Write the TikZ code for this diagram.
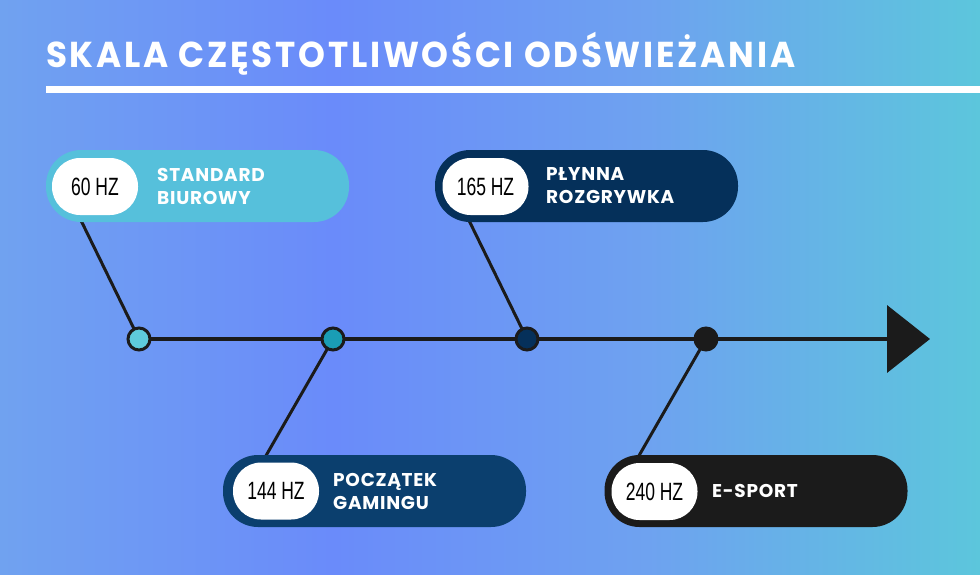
\documentclass[tikz,border=0pt]{standalone}
\usepackage{fontspec}
\setmainfont{Poppins}[BoldFont={Poppins Bold}]
\newfontfamily\hzfont[FakeStretch=0.70]{Liberation Sans}
\newfontfamily\titlefont[FakeStretch=0.95,LetterSpace=7.6]{Poppins Bold}
\newfontfamily\lblfont[LetterSpace=4]{Poppins Bold}
\usetikzlibrary{arrows.meta}

\newlength{\du}
\setlength{\du}{1pt}

\definecolor{bgA}{RGB}{112,162,240}
\definecolor{bgB}{RGB}{106,139,250}
\definecolor{bgC}{RGB}{110,162,240}
\definecolor{bgD}{RGB}{92,198,220}
\definecolor{officecol}{RGB}{86,192,219}
\definecolor{gamingcol}{RGB}{11,63,110}
\definecolor{smoothcol}{RGB}{5,48,90}
\definecolor{esportcol}{RGB}{27,27,27}
\definecolor{dotsixtycol}{RGB}{94,203,220}
\definecolor{dotgamecol}{RGB}{26,157,181}
\definecolor{inkcol}{RGB}{27,27,27}

\pgfdeclarehorizontalshading{backdrop}{100bp}{color(0bp)=(bgA); color(25bp)=(bgA); color(42bp)=(bgB); color(58bp)=(bgC); color(75bp)=(bgD); color(100bp)=(bgD)}

\pgfdeclarelayer{wire}
\pgfsetlayers{wire,main}

\tikzset{
  pill/.style={rounded corners=35\du, minimum width=303\du, minimum height=72\du, inner sep=0pt},
  hzpill/.style={fill=white, rounded corners=28\du, minimum width=86\du, minimum height=57\du, inner sep=0pt, font=\hzfont\fontsize{25}{25}\selectfont},
  lbl/.style={anchor=west, align=left, text=white, inner sep=0pt, font=\lblfont\fontsize{18.5}{23}\selectfont},
  dot/.style={circle, draw=inkcol, line width=3\du, minimum size=22\du, inner sep=0pt},
  wire/.style={draw=inkcol, line width=3\du}
}

\begin{document}
\begin{tikzpicture}
\pgftransformxscale{1.000000}
\pgftransformyscale{-1.000000}
\begin{pgfonlayer}{wire}
\shade[shading=backdrop] (0\du,0\du) rectangle (980\du,574\du);
\end{pgfonlayer}
\useasboundingbox (0\du,0\du) rectangle (980\du,574\du);

% title
\node[anchor=base west, text=white, inner sep=0pt, font=\titlefont\fontsize{36}{36}\selectfont] (title) at (46\du,67\du) {SKALA CZĘSTOTLIWOŚCI ODŚWIEŻANIA};
\fill[white] (46\du,86\du) rectangle (980\du,93\du);

% time line
\coordinate (axstart) at (128\du,339\du);
\coordinate (axend) at (930\du,339\du);
\node[dot, fill=dotsixtycol] (dot60) at (139\du,339\du) {};
\node[dot, fill=dotgamecol] (dot144) at (333\du,339\du) {};
\node[dot, fill=smoothcol] (dot165) at (527\du,339\du) {};
\node[dot, fill=esportcol] (dot240) at (706\du,339\du) {};

% boxes
\node[pill, fill=officecol] (office) at (197.5\du,186\du) {};
\node[hzpill] (hz60) at (95\du,186.5\du) {60 HZ};
\node[lbl] (officelbl) at (157\du,186\du) {STANDARD\\BIUROWY};

\node[pill, fill=smoothcol] (smooth) at (586.5\du,186\du) {};
\node[hzpill] (hz165) at (485.5\du,186.5\du) {165 HZ};
\node[lbl] (smoothlbl) at (546\du,186\du) {PŁYNNA\\ROZGRYWKA};

\node[pill, fill=gamingcol] (gaming) at (374.5\du,491\du) {};
\node[hzpill] (hz144) at (276\du,491\du) {144 HZ};
\node[lbl] (gaminglbl) at (333\du,491\du) {POCZĄTEK\\GAMINGU};

\node[pill, fill=esportcol] (esport) at (756\du,491\du) {};
\node[hzpill] (hz240) at (654.5\du,491.5\du) {240 HZ};
\node[lbl] (esportlbl) at (712\du,491\du) {E-SPORT};

% connectors
\coordinate (e60) at (71\du,200\du);
\coordinate (e144) at (252\du,480\du);
\coordinate (e165) at (459\du,200\du);
\coordinate (e240) at (625\du,480\du);
\begin{pgfonlayer}{wire}
\draw[wire, line width=4\du, -{Triangle[length=43pt,width=67pt]}] (axstart) -- (axend);
\draw[wire] (dot60.center) -- (e60);
\draw[wire] (dot144.center) -- (e144);
\draw[wire] (dot165.center) -- (e165);
\draw[wire] (dot240.center) -- (e240);
\end{pgfonlayer}
\end{tikzpicture}
\end{document}
